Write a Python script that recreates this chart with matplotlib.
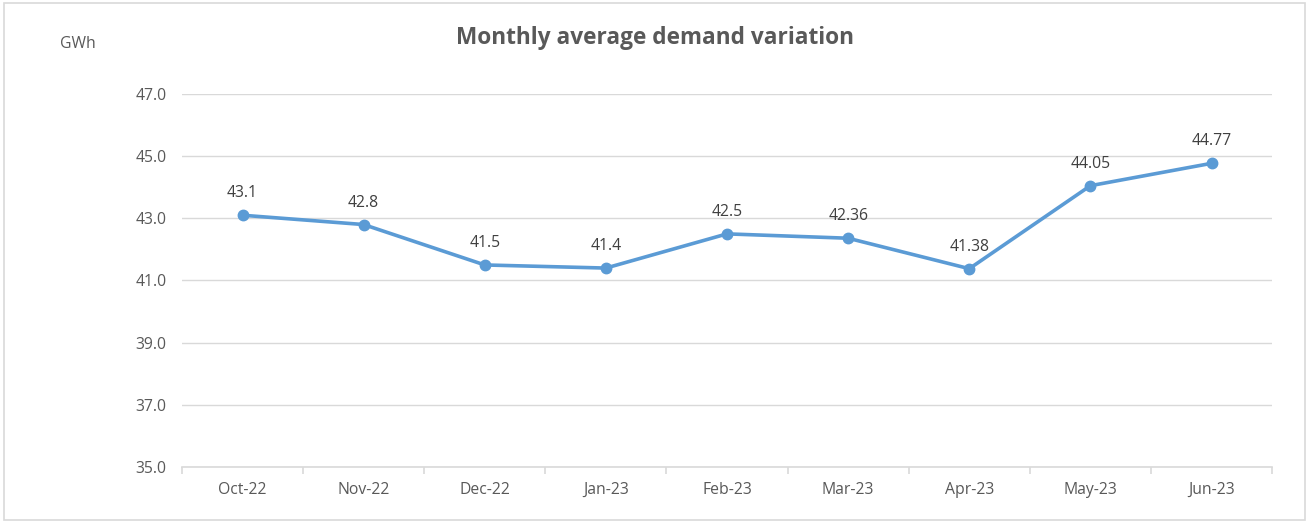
import matplotlib
matplotlib.use("Agg")
import matplotlib.pyplot as plt
from matplotlib.patches import Rectangle

months = ["Oct-22", "Nov-22", "Dec-22", "Jan-23", "Feb-23", "Mar-23", "Apr-23", "May-23", "Jun-23"]
demand = [43.1, 42.8, 41.5, 41.4, 42.5, 42.36, 41.38, 44.05, 44.77]
labels = ["43.1", "42.8", "41.5", "41.4", "42.5", "42.36", "41.38", "44.05", "44.77"]
yticks = [35.0, 37.0, 39.0, 41.0, 43.0, 45.0, 47.0]

plt.rcParams['font.family'] = ['Open Sans', 'DejaVu Sans']
txt = '#595959'

fig = plt.figure(figsize=(13.09, 5.22), dpi=100)
fig.patches.append(Rectangle((0.003, 0.004), 0.994, 0.99, transform=fig.transFigure,
                             fill=False, edgecolor='#D9D9D9', linewidth=1.2))
ax = fig.add_axes([0.139, 0.1054, 0.8328, 0.7145])

x = list(range(len(months)))
ax.plot(x, demand, color='#5B9BD5', linewidth=2.6, marker='o', markersize=7.5, zorder=3)
for xi, yi, lb in zip(x, demand, labels):
    ax.annotate(lb, (xi, yi), xytext=(0, 10), textcoords='offset points',
                ha='center', va='bottom', fontsize=11.3, color='#404040')

ax.set_xlim(-0.5, len(months) - 0.5)
ax.set_ylim(35, 47)
ax.set_yticks(yticks)
ax.set_yticklabels([f"{v:.1f}" for v in yticks])
ax.grid(axis='y', color='#D9D9D9', linewidth=1)
ax.set_axisbelow(True)
for s in ['top', 'right', 'left']:
    ax.spines[s].set_visible(False)
ax.spines['bottom'].set_color('#D9D9D9')
ax.spines['bottom'].set_linewidth(1.2)

ax.set_xticks([i - 0.5 for i in range(len(months) + 1)], minor=False)
ax.set_xticklabels([])
ax.tick_params(axis='x', which='major', length=5, color='#D9D9D9', width=1.2)
ax.set_xticks(x, minor=True)
ax.set_xticklabels(months, minor=True)
ax.tick_params(axis='x', which='minor', length=0, pad=11, labelsize=11.3, labelcolor=txt)
ax.tick_params(axis='y', length=0, pad=11, labelsize=11.3, labelcolor=txt)

fig.text(0.5, 0.928, "Monthly average demand variation", ha='center', va='center',
         fontsize=16.3, fontweight='bold', color=txt)
fig.text(0.046, 0.915, "GWh", ha='left', va='center', fontsize=11.3, color=txt)

fig.savefig("out.png", dpi=100)
